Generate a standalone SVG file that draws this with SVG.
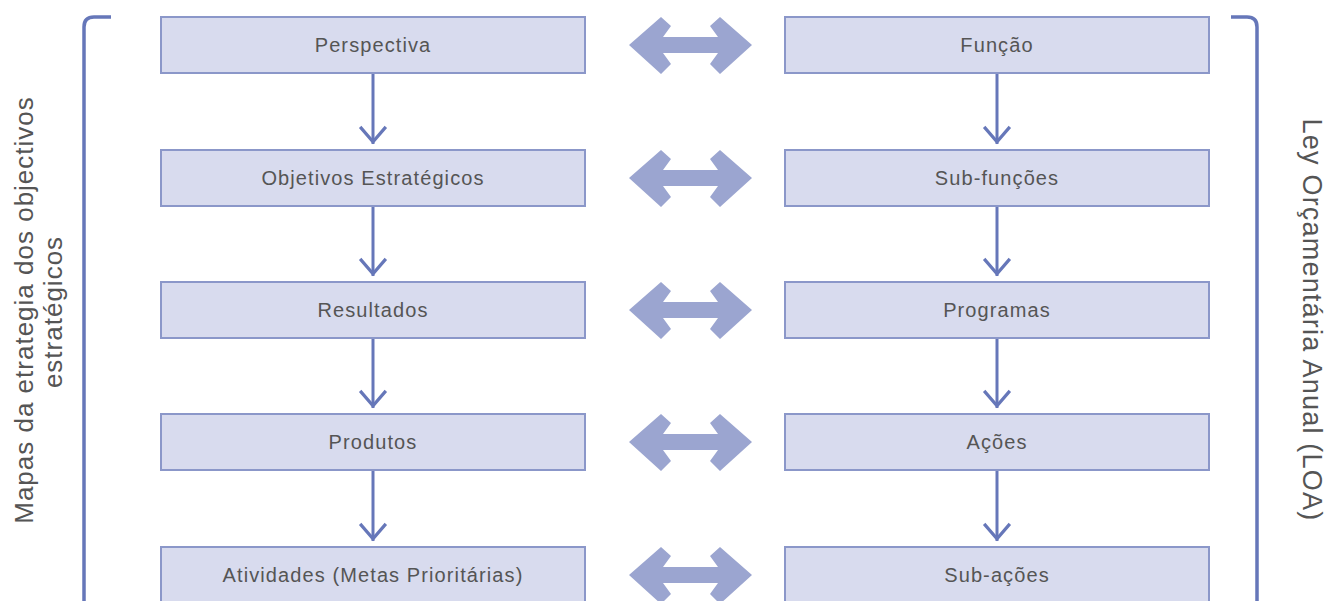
<svg xmlns="http://www.w3.org/2000/svg" width="1327" height="601" viewBox="0 0 1327 601">
<defs>
<style>
.box{fill:#d8dbee;stroke:#8b97c9;stroke-width:2}
.lbl{font-family:"Liberation Sans",Arial,sans-serif;font-size:20px;letter-spacing:1.1px;fill:#555;text-anchor:middle;dominant-baseline:central}
.side{font-family:"Liberation Sans",Arial,sans-serif;font-size:26px;letter-spacing:1px;fill:#555;text-anchor:middle}
.con{stroke:#6677b9;stroke-width:3;fill:none}
.brk{stroke:#6677b9;stroke-width:3.5;fill:none}
.dbl{fill:#9ba5d0}
</style>
<marker id="ah" markerWidth="30" markerHeight="30" viewBox="-14 -18 28 22" refX="0" refY="0" markerUnits="userSpaceOnUse">
<path d="M-12,-16 L0,-2 L12,-16" fill="none" stroke="#6677b9" stroke-width="3"/>
</marker>
<path id="dbl" d="M629,45 L661,17 L671,26 L663,37 L718,37 L710,26 L720,17 L752,45 L720,74 L710,64 L718,53 L663,53 L671,64 L661,74 Z"/>
</defs>

<g id="bracket-left"><path class="brk" d="M111,17 L94,17 Q84,17 84,27 L84,610"/></g>
<g id="bracket-right"><path class="brk" d="M1231,17 L1247,17 Q1257,17 1257,27 L1257,610"/></g>

<g id="label-left">
<text class="side" transform="translate(33,310) rotate(-90)">Mapas da etrategia dos objectivos</text>
<text class="side" transform="translate(62,312) rotate(-90)">estratégicos</text>
</g>
<g id="label-right">
<text class="side" style="font-size:27px;letter-spacing:1.2px" transform="translate(1303,320) rotate(90)">Ley Orçamentária Anual (LOA)</text>
</g>

<g id="n-perspectiva"><rect class="box" x="161" y="17" width="424" height="56"/><text class="lbl" x="373" y="45">Perspectiva</text></g>
<g id="n-objetivos"><rect class="box" x="161" y="150" width="424" height="56"/><text class="lbl" x="373" y="178">Objetivos Estratégicos</text></g>
<g id="n-resultados"><rect class="box" x="161" y="282" width="424" height="56"/><text class="lbl" x="373" y="310">Resultados</text></g>
<g id="n-produtos"><rect class="box" x="161" y="414" width="424" height="56"/><text class="lbl" x="373" y="442">Produtos</text></g>
<g id="n-atividades"><rect class="box" x="161" y="547" width="424" height="56"/><text class="lbl" x="373" y="575">Atividades (Metas Prioritárias)</text></g>

<g id="n-funcao"><rect class="box" x="785" y="17" width="424" height="56"/><text class="lbl" x="997" y="45">Função</text></g>
<g id="n-subfuncoes"><rect class="box" x="785" y="150" width="424" height="56"/><text class="lbl" x="997" y="178">Sub-funções</text></g>
<g id="n-programas"><rect class="box" x="785" y="282" width="424" height="56"/><text class="lbl" x="997" y="310">Programas</text></g>
<g id="n-acoes"><rect class="box" x="785" y="414" width="424" height="56"/><text class="lbl" x="997" y="442">Ações</text></g>
<g id="n-subacoes"><rect class="box" x="785" y="547" width="424" height="56"/><text class="lbl" x="997" y="575">Sub-ações</text></g>

<g id="connectors">
<line class="con" x1="373" y1="74" x2="373" y2="144" marker-end="url(#ah)"/>
<line class="con" x1="373" y1="207" x2="373" y2="276" marker-end="url(#ah)"/>
<line class="con" x1="373" y1="339" x2="373" y2="408" marker-end="url(#ah)"/>
<line class="con" x1="373" y1="471" x2="373" y2="541" marker-end="url(#ah)"/>
<line class="con" x1="997" y1="74" x2="997" y2="144" marker-end="url(#ah)"/>
<line class="con" x1="997" y1="207" x2="997" y2="276" marker-end="url(#ah)"/>
<line class="con" x1="997" y1="339" x2="997" y2="408" marker-end="url(#ah)"/>
<line class="con" x1="997" y1="471" x2="997" y2="541" marker-end="url(#ah)"/>
<use href="#dbl" class="dbl"/>
<use href="#dbl" class="dbl" y="133"/>
<use href="#dbl" class="dbl" y="265"/>
<use href="#dbl" class="dbl" y="397"/>
<use href="#dbl" class="dbl" y="530"/>
</g>
</svg>
